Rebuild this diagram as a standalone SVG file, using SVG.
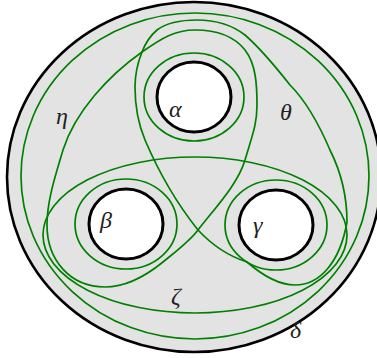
<svg xmlns="http://www.w3.org/2000/svg" width="377" height="358" viewBox="0 0 377 358">
<style>
.bd{fill:#e3e3e3;stroke:#000;stroke-width:2.6}
.hole{fill:#fff;stroke:#000;stroke-width:3}
.c{fill:none;stroke:#008000;stroke-width:1.7}
.lb{font-family:"Liberation Serif","DejaVu Serif",serif;font-style:italic;font-size:24px;fill:#222}
</style>
<g id="surface">
<ellipse class="bd" cx="194" cy="177" rx="187" ry="175"/>
</g>
<g id="hole-alpha"><ellipse class="hole" cx="194" cy="97" rx="37" ry="35"/><text class="lb" x="169" y="117">α</text></g>
<g id="hole-beta"><ellipse class="hole" cx="126" cy="224" rx="37" ry="35"/><text class="lb" x="100" y="228">β</text></g>
<g id="hole-gamma"><ellipse class="hole" cx="276" cy="225" rx="37" ry="35"/><text class="lb" x="253" y="233">γ</text></g>
<g id="curves">
<ellipse id="delta" class="c" cx="195" cy="176" rx="174" ry="163"/>
<ellipse id="a" class="c" cx="194" cy="97" rx="50" ry="44"/>
<ellipse id="b" class="c" cx="126" cy="224" rx="51" ry="45"/>
<ellipse id="g" class="c" cx="276" cy="225" rx="51" ry="45"/>
<ellipse id="zeta" class="c" cx="195" cy="235" rx="152" ry="78"/>
<path id="eta" class="c" d="M195,30 C175,30 162,38 142,52 C108,76 75,112 63,150 C56,174 47,200 47,225 C47,260 70,287 105,287 C128,287 147,275 163,262 C174,253 190,241 198,230 C215,208 238,184 245,160 C252,136 257,125 257,105 C257,85 256,64 245,50 C234,36 215,30 195,30 Z"/>
<path id="theta" class="c" d="M197,20 C180,20 165,24 157,30 C150,36 145,44 142,52 C138,62 135,75 135,87 C135,110 140,128 145,140 C160,175 178,205 198,230 C212,245 228,256 247,262 C262,275 278,285 295,285 C320,285 340,262 347,222 C347,195 340,170 330,150 C318,122 305,100 290,85 C275,66 260,48 245,35 C232,25 215,20 197,20 Z"/>
</g>
<g id="labels">
<text class="lb" x="56" y="124">η</text>
<text class="lb" x="280" y="120">θ</text>
<text class="lb" x="171" y="304">ζ</text>
<text class="lb" x="290" y="338">δ</text>
</g>
</svg>
